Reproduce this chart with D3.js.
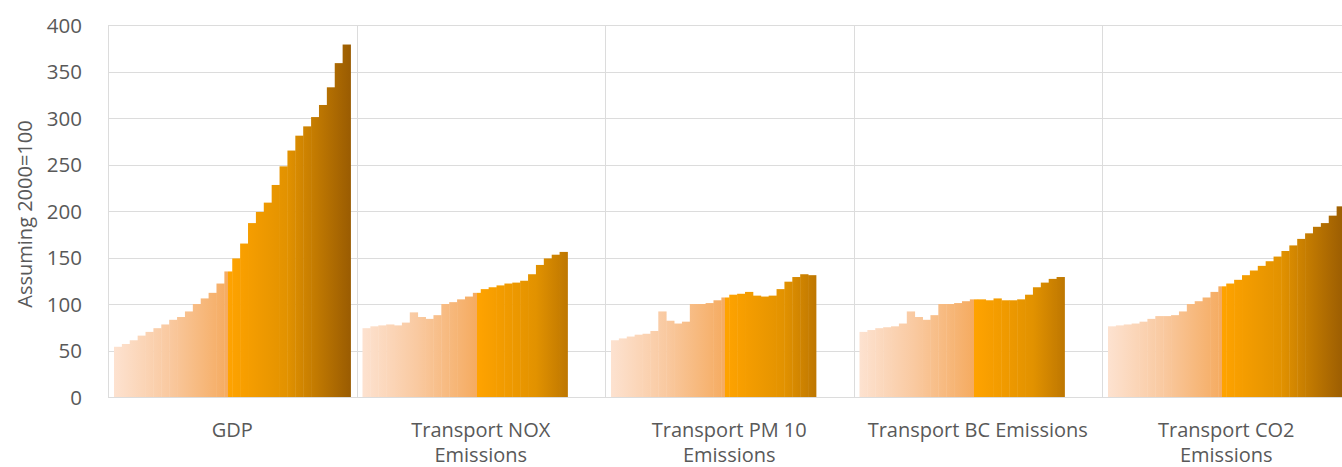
<!DOCTYPE html>
<html>
<head>
<meta charset="utf-8">
<script src="https://cdn.jsdelivr.net/npm/d3@7"></script>
<style>
  html, body { margin: 0; padding: 0; background: #fff; }
  svg { display: block; font-family: "Open Sans", "Noto Sans", sans-serif; }
</style>
</head>
<body>
<svg id="chart" width="1342" height="467"></svg>
<script>
// Indexed values, 2000 = 100
const categories = ["GDP", "Transport NOX Emissions", "Transport PM 10 Emissions",
                    "Transport BC Emissions", "Transport CO2 Emissions"];
const years = d3.range(1990, 2020).map(String);

const gdp  = [54, 57, 61, 66, 70, 74, 78, 83, 86, 92, 100, 106, 112, 122, 135,
              149, 165, 187, 199, 209, 228, 248, 265, 281, 291, 301, 314, 333, 359, 379];
const nox  = [74, 76, 77, 78, 77, 80, 91, 86, 84, 88, 100, 102, 105, 108, 112,
              116, 118, 120, 122, 123, 125, 132, 142, 149, 153, 156];
const pm10 = [61, 63, 65, 67, 68, 71, 92, 82, 79, 81, 100, 100, 101, 104, 107,
              110, 111, 113, 109, 108, 109, 116, 124, 129, 132, 131];
const bc   = [70, 72, 74, 75, 76, 79, 92, 86, 83, 88, 100, 100, 101, 103, 105,
              105, 104, 106, 104, 104, 105, 110, 118, 123, 127, 129];
const co2  = [76, 77, 78, 79, 81, 84, 87, 87, 88, 92, 100, 103, 107, 113, 119,
              122, 126, 131, 136, 141, 146, 151, 157, 163, 170, 176, 183, 187, 195, 205];

const seriesByCategory = [gdp, nox, pm10, bc, co2];
const yTicks = [0, 50, 100, 150, 200, 250, 300, 350, 400];
const labelLines = [["GDP"], ["Transport NOX", "Emissions"], ["Transport PM 10", "Emissions"],
                    ["Transport BC Emissions"], ["Transport CO2", "Emissions"]];

const svg = d3.select("#chart");
const textColor = "#595959";
const gridColor = "#dcdcdc";

const plot = { left: 108, right: 1350.5, top: 25, bottom: 397 };

const x0 = d3.scaleBand().domain(categories).range([plot.left, plot.right]).padding(0);
const x1 = d3.scaleBand().domain(years).range([0, x0.bandwidth()])
  .paddingInner(0).paddingOuter(0.76);
const y = d3.scaleLinear().domain([0, 400]).range([plot.bottom, plot.top]);

// colour ramp over the year slots: pale peach -> orange -> deep brown
const rampStops = [
  [0, "#fde2d0"], [7, "#f9c9a0"], [14.5, "#f5ab60"], [14.5, "#ffa300"],
  [22, "#e29200"], [30, "#9a5c02"]
];

// one horizontal gradient over the year slots, in each group's local coordinates
const defs = svg.append("defs");
const ramp = defs.append("linearGradient")
  .attr("id", "yearRamp")
  .attr("gradientUnits", "userSpaceOnUse")
  .attr("x1", x1(years[0]))
  .attr("x2", x1(years[years.length - 1]) + x1.bandwidth())
  .attr("y1", 0).attr("y2", 0);
rampStops.forEach(([slot, col]) => {
  ramp.append("stop").attr("offset", slot / years.length).attr("stop-color", col);
});

// horizontal gridlines
svg.append("g")
  .selectAll("line")
  .data(yTicks)
  .join("line")
  .attr("x1", plot.left).attr("x2", plot.right)
  .attr("y1", d => Math.round(y(d)) + 0.5).attr("y2", d => Math.round(y(d)) + 0.5)
  .attr("stroke", gridColor).attr("stroke-width", 1);

// vertical separators between categories
svg.append("g")
  .selectAll("line")
  .data(categories)
  .join("line")
  .attr("x1", d => Math.round(x0(d)) + 0.5).attr("x2", d => Math.round(x0(d)) + 0.5)
  .attr("y1", plot.top).attr("y2", plot.bottom + 0.5)
  .attr("stroke", gridColor).attr("stroke-width", 1);

// bars
const groups = svg.append("g")
  .selectAll("g")
  .data(categories)
  .join("g")
  .attr("transform", d => `translate(${x0(d)},0)`);

groups.selectAll("rect")
  .data((d, i) => seriesByCategory[i].map((v, j) => ({ year: years[j], value: v })))
  .join("rect")
  .attr("x", d => x1(d.year))
  .attr("width", x1.bandwidth() + 0.4)
  .attr("y", d => y(d.value))
  .attr("height", d => y(0) - y(d.value))
  .attr("fill", "url(#yearRamp)");

// y axis tick labels
const yAxis = d3.axisLeft(y).tickValues(yTicks).tickSize(0).tickPadding(0);
const yg = svg.append("g")
  .attr("transform", "translate(82,0)")
  .call(yAxis);
yg.select(".domain").remove();
yg.selectAll("text")
  .attr("fill", textColor)
  .attr("font-size", 20.5)
  .attr("font-family", "'Open Sans', sans-serif")
  .attr("dy", "0.36em");

// y axis title
svg.append("text")
  .attr("transform", "translate(32,214) rotate(-90)")
  .attr("text-anchor", "middle")
  .attr("fill", textColor)
  .attr("font-size", 20)
  .text("Assuming 2000=100");

// category labels
const xl = svg.append("g");
categories.forEach((c, i) => {
  const t = xl.append("text")
    .attr("x", x0(c) + x0.bandwidth() / 2)
    .attr("y", 437)
    .attr("text-anchor", "middle")
    .attr("fill", textColor)
    .attr("font-size", 20);
  labelLines[i].forEach((line, k) => {
    t.append("tspan")
      .attr("x", x0(c) + x0.bandwidth() / 2)
      .attr("dy", k === 0 ? 0 : 25)
      .text(line);
  });
});
</script>
</body>
</html>
